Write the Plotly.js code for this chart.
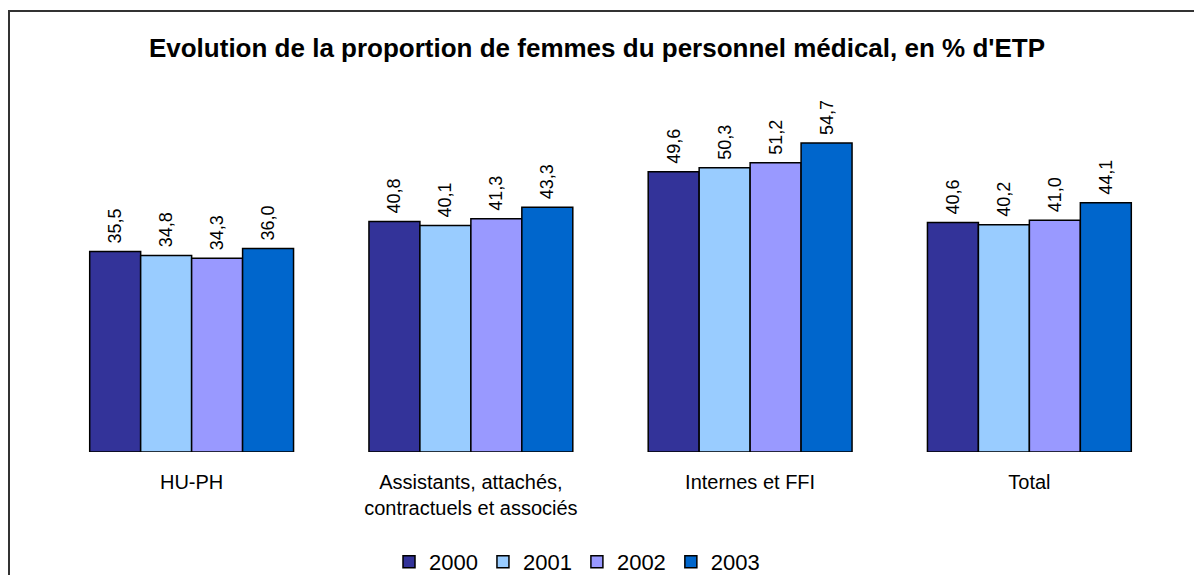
<!DOCTYPE html>
<html>
<head>
<meta charset="utf-8">
<script src="https://cdn.plot.ly/plotly-3.0.1.min.js"></script>
<style>html,body{margin:0;padding:0;background:#fff;}#chart{width:1194px;height:575px;}</style>
</head>
<body>
<div id="chart"></div>
<script>
const categories = ["HU-PH", "Assistants, attachés,<br>contractuels et associés", "Internes et FFI", "Total"];
const years = ["2000", "2001", "2002", "2003"];
const values2000 = [35.5, 40.8, 49.6, 40.6];
const values2001 = [34.8, 40.1, 50.3, 40.2];
const values2002 = [34.3, 41.3, 51.2, 41.0];
const values2003 = [36.0, 43.3, 54.7, 44.1];
const colors = ["#333399", "#99CCFF", "#9999FF", "#0066CC"];

const series = [values2000, values2001, values2002, values2003];
const fmt = v => '\u00a0' + v.toFixed(1).replace('.', ',');

const FONT = "Liberation Sans, Arial, sans-serif";

const traces = series.map((vals, i) => ({
  type: 'bar',
  name: years[i],
  x: categories,
  y: vals,
  text: vals.map(fmt),
  textposition: 'outside',
  textangle: -90,
  constraintext: 'none',
  cliponaxis: false,
  textfont: {family: FONT, size: 18, color: '#000'},
  marker: {color: colors[i], line: {color: '#000', width: 1.5}},
  hoverinfo: 'none'
}));

const W = 1194, H = 575;
const L = 52, R = 25, T = 113, B = 123;
const pw = W - L - R, ph = H - T - B;
const px = x => (x - L) / pw;
const py = y => (H - B - y) / ph;

const layout = {
  width: W, height: H,
  margin: {l: L, r: R, t: T, b: B, pad: 0, autoexpand: false},
  paper_bgcolor: '#fff',
  plot_bgcolor: '#fff',
  barmode: 'group',
  bargap: 0.27,
  bargroupgap: 0,
  font: {family: FONT, color: '#000'},
  title: {
    text: "<b>Evolution de la proportion de femmes du personnel médical, en % d'ETP</b>",
    font: {family: FONT, size: 26, color: '#000'},
    x: 0.5, xanchor: 'center',
    y: 1 - 48 / H, yref: 'container', yanchor: 'middle'
  },
  xaxis: {
    showgrid: false, zeroline: false, showline: false,
    ticks: '', ticklabelstandoff: 16,
    tickfont: {family: FONT, size: 20, color: '#000'},
    fixedrange: true, automargin: false
  },
  yaxis: {
    range: [0, 60], visible: false, showgrid: false, zeroline: false, fixedrange: true, automargin: false
  },
  showlegend: true,
  legend: {
    orientation: 'h',
    x: px(577), xanchor: 'center',
    y: py(562), yanchor: 'middle',
    font: {family: FONT, size: 22, color: '#000'},
    itemclick: false, itemdoubleclick: false,
    bgcolor: 'rgba(0,0,0,0)'
  },
  shapes: [{
    type: 'rect', xref: 'paper', yref: 'paper',
    x0: px(9), x1: px(1260), y0: py(640), y1: py(11),
    line: {color: '#333', width: 2}, fillcolor: 'rgba(0,0,0,0)', layer: 'below'
  }]
};

Plotly.newPlot('chart', traces, layout, {staticPlot: true, displayModeBar: false});
</script>
</body>
</html>
